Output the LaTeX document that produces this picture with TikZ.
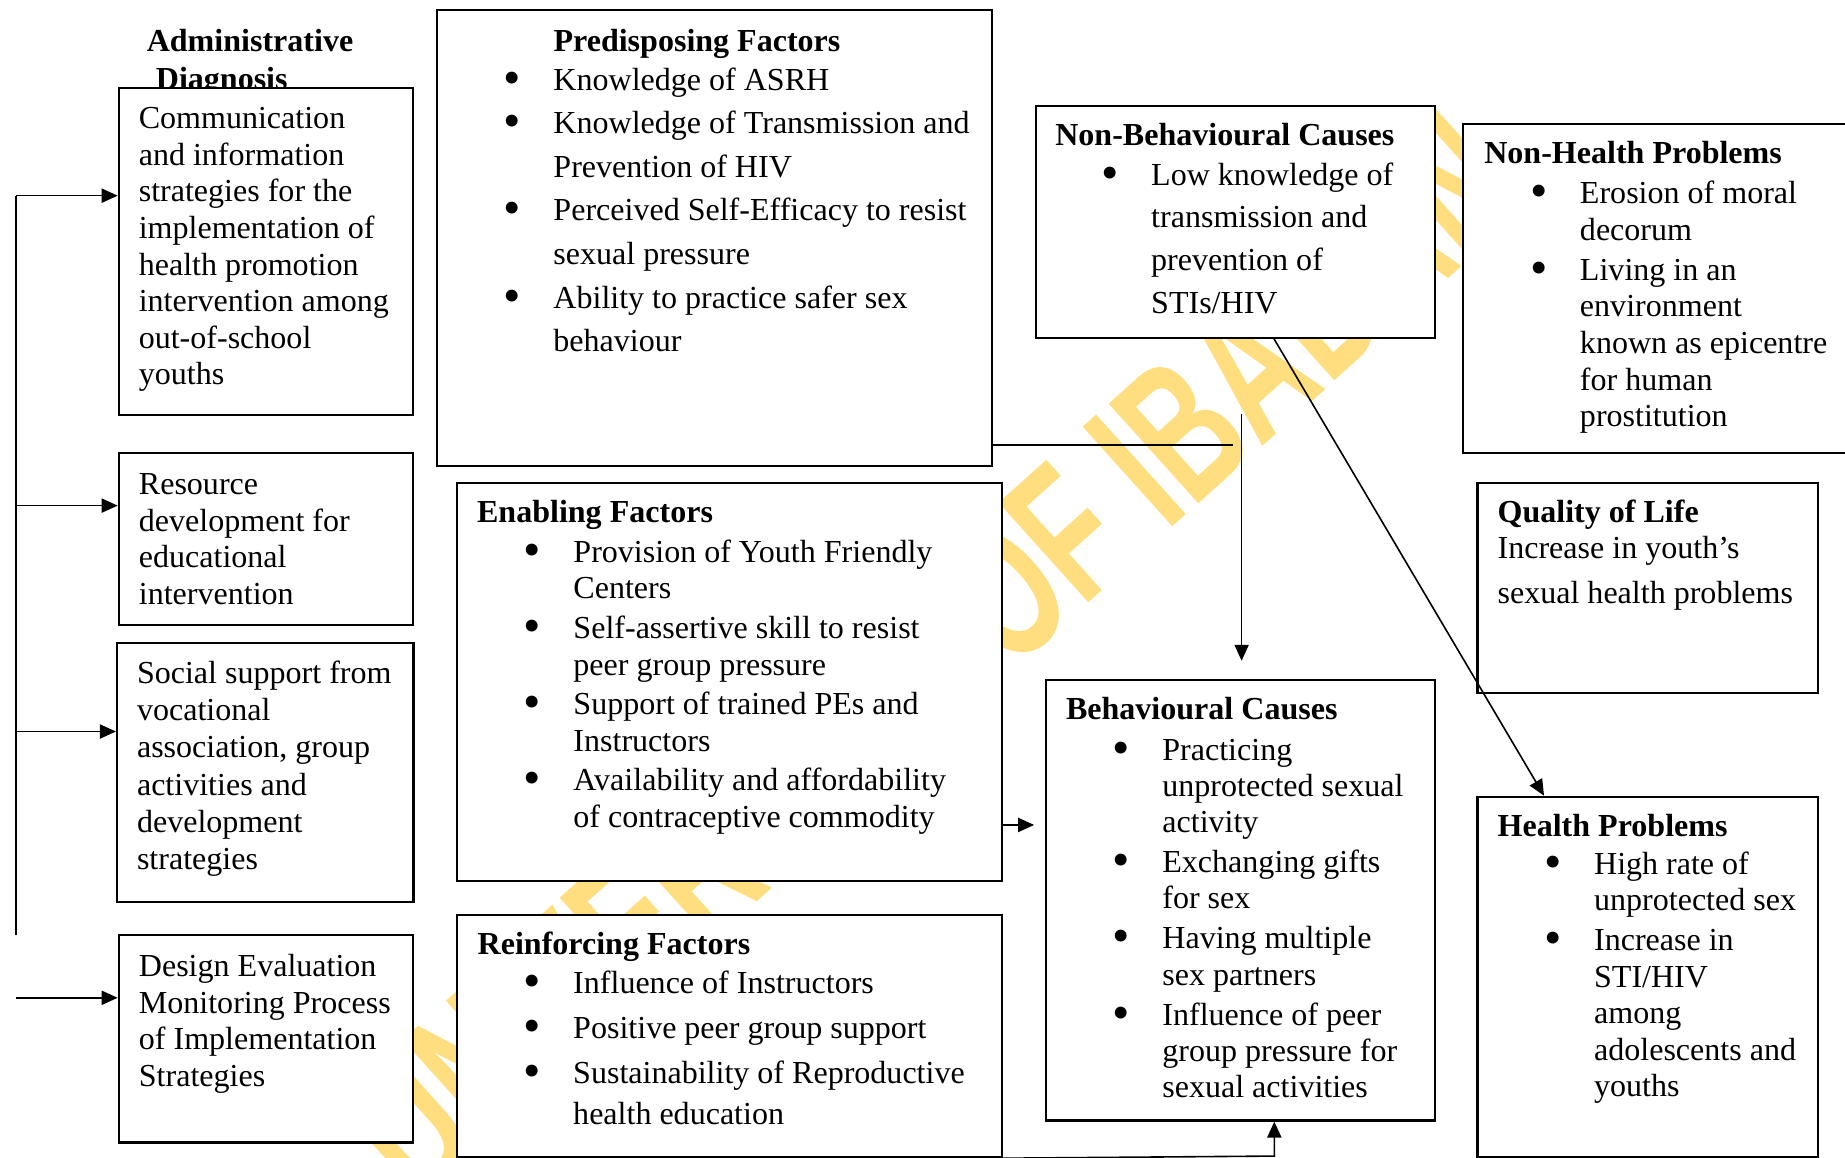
\documentclass[tikz,border=0pt]{standalone}
\usepackage{fontspec}
\usepackage{graphicx}
\setmainfont{Liberation Serif}
\newfontfamily\wmfont{Liberation Sans}
\usetikzlibrary{arrows.meta}
\definecolor{wmyellow}{RGB}{255,222,128}
\newcommand{\upx}{0.4407pt}
\newcommand{\bul}{\hspace*{-1.2pt}\raisebox{-1.5pt}{\scalebox{1.55}{\textbullet}}}
\newcommand{\fs}[1]{\fontsize{12}{#1}\selectfont}

\begin{document}
\begin{tikzpicture}[x=0.4407pt,y=-0.4407pt,>={Triangle[length=6pt,width=5.3pt]},
    box/.style 2 args={draw,fill=white,line width=0.8pt,inner sep=0pt,anchor=north west,
      minimum width=#1*\upx,minimum height=#2*\upx},
    txt/.style={anchor=base west,inner sep=0pt,yshift=-0.66pt},
    ttl/.style={txt,font=\bfseries\fs{14pt}},
    conn/.style={line width=0.6pt},
    wm/.style={anchor=base east,inner sep=0pt,rotate=42,xscale=0.65,text=wmyellow,
      font=\wmfont\bfseries\fontsize{73}{73}\selectfont}]
  \useasboundingbox (0,0) rectangle (1568,984);
  \node[wm] (wmark) at (1302.8,172.5) {UNIVERSITY OF IBADAN};

  \node[txt,font=\bfseries\fs{14pt}] (admt) at (124.3,42.5)
    {\begin{tabular}[t]{@{}l@{}}Administrative\\\hspace*{3.4pt}Diagnosis\end{tabular}};

  \node[box={250}{278}] (comm) at (100,74) {};
  \node[box={250}{146}] (res) at (100,384) {};
  \node[box={252}{220.4}] (soc) at (98.5,545.6) {};
  \node[box={250}{176}] (dsg) at (100,794) {};
  \node[box={471.7}{387.3}] (pre) at (370.3,7.9) {};
  \node[box={463.5}{338.2}] (enab) at (387.2,409.8) {};
  \node[box={463.5}{205.9}] (reinf) at (387.2,776.6) {};
  \node[box={339.5}{196.9}] (nbc) at (879.2,89.2) {};
  \node[box={340}{279.1}] (nhp) at (1242.7,104.8) {};
  \node[box={289.3}{178.5}] (qol) at (1254.7,409.3) {};
  \node[box={331}{374.4}] (beh) at (887.7,577) {};
  \node[box={289.3}{306.3}] (hp) at (1254.7,676.2) {};

  \node[txt,font=\fs{13.7pt}] (commtxt) at (117.5,108) {\begin{tabular}[t]{@{}l@{}}
    Communication\\and information\\strategies for the\\implementation of\\
    health promotion\\intervention among\\out-of-school\\youths\end{tabular}};
  \node[txt,font=\fs{13.75pt}] (restxt) at (117.6,418.8) {\begin{tabular}[t]{@{}l@{}}
    Resource\\development for\\educational\\intervention\end{tabular}};
  \node[txt,font=\fs{13.9pt}] (soctxt) at (116,579.6) {\begin{tabular}[t]{@{}l@{}}
    Social support from\\vocational\\association, group\\activities and\\
    development\\strategies\end{tabular}};
  \node[txt,font=\fs{13.7pt}] (dsgtxt) at (117.6,828.6) {\begin{tabular}[t]{@{}l@{}}
    Design Evaluation\\Monitoring Process\\of Implementation\\Strategies\end{tabular}};

  \node[ttl] (pret) at (470,42.5) {Predisposing Factors};
  \node[txt,font=\fs{16.35pt}] (pretxt) at (430.2,75) {\begin{tabular}[t]{@{}p{17.5pt}@{}l@{}}
    \bul & Knowledge of ASRH\\
    \bul & Knowledge of Transmission and\\ & Prevention of HIV\\
    \bul & Perceived Self-Efficacy to resist\\ & sexual pressure\\
    \bul & Ability to practice safer sex\\ & behaviour\end{tabular}};

  \node[ttl] (enabt) at (405,442.6) {Enabling Factors};
  \node[txt,font=\fs{13.7pt}] (enabtxt) at (447.2,476.3) {\begin{tabular}[t]{@{}p{17.5pt}@{}l@{}}
    \bul & Provision of Youth Friendly\\ & Centers\\[1.15pt]
    \bul & Self-assertive skill to resist\\ & peer group pressure\\[1.15pt]
    \bul & Support of trained PEs and\\ & Instructors\\[1.15pt]
    \bul & Availability and affordability\\ & of contraceptive commodity\end{tabular}};

  \node[ttl] (reinft) at (405.5,810) {Reinforcing Factors};
  \node[txt,font=\fs{15.56pt}] (reinftxt) at (447,842.8) {\begin{tabular}[t]{@{}p{17.5pt}@{}l@{}}
    \bul & Influence of Instructors\\[1.28pt]
    \bul & Positive peer group support\\[1.28pt]
    \bul & Sustainability of Reproductive\\ & health education\end{tabular}};

  \node[ttl] (nbct) at (896.4,121.8) {Non-Behavioural Causes};
  \node[txt,font=\fs{16.04pt}] (nbctxt) at (938.2,155.8) {\begin{tabular}[t]{@{}p{17.5pt}@{}l@{}}
    \bul & Low knowledge of\\ & transmission and\\ & prevention of\\ & STIs/HIV\end{tabular}};

  \node[ttl] (nhpt) at (1261,137.4) {Non-Health Problems};
  \node[txt,font=\fs{13.75pt}] (nhptxt) at (1302.6,171.4) {\begin{tabular}[t]{@{}p{17.5pt}@{}l@{}}
    \bul & Erosion of moral\\ & decorum\\[1.23pt]
    \bul & Living in an\\ & environment\\ & known as epicentre\\ & for human\\
    & prostitution\end{tabular}};

  \node[ttl] (qolt) at (1272.3,442.5) {Quality of Life};
  \node[txt,font=\fs{17pt}] (qoltxt) at (1272.3,473) {\begin{tabular}[t]{@{}l@{}}
    Increase in youth’s\\sexual health problems\end{tabular}};

  \node[ttl] (beht) at (905.5,610.4) {Behavioural Causes};
  \node[txt,font=\fs{13.6pt}] (behtxt) at (947.7,644.4) {\begin{tabular}[t]{@{}p{17.5pt}@{}l@{}}
    \bul & Practicing\\ & unprotected sexual\\ & activity\\[1.37pt]
    \bul & Exchanging gifts\\ & for sex\\[1.37pt]
    \bul & Having multiple\\ & sex partners\\[1.37pt]
    \bul & Influence of peer\\ & group pressure for\\ & sexual activities\end{tabular}};

  \node[ttl] (hpt) at (1272.3,709.3) {Health Problems};
  \node[txt,font=\fs{13.66pt}] (hptxt) at (1314.6,741.7) {\begin{tabular}[t]{@{}p{17.5pt}@{}l@{}}
    \bul & High rate of\\ & unprotected sex\\[1.32pt]
    \bul & Increase in\\ & STI/HIV\\ & among\\ & adolescents and\\ & youths\end{tabular}};

  \coordinate (spt) at (13.4,166.3);
  \coordinate (spb) at (13.4,794.6);
  \draw[conn] (spt) -- (spb);
  \foreach \b/\y in {comm/166.3,res/429.7,soc/621.7} {
    \coordinate (s) at (13.4,\y);
    \draw[conn,->] (s) -- (s -| \b.west);
  }
  \coordinate (dsgin) at (14,848);
  \draw[conn,->] (dsgin) -- (dsgin -| dsg.west);

  \coordinate (prej) at (1048.2,378.2);
  \draw[conn] (prej -| pre.east) -- (prej);
  \coordinate (drop) at (1055.2,352.1);
  \draw[conn,->,shorten >=6.8pt] (drop) -- (drop |- beh.north);
  \coordinate (eb) at (849.8,701.1);
  \draw[conn,->,shorten >=3.9pt] (eb -| enab.east) -- (eb -| beh.west);
  \coordinate (rb) at (1083,982.5);
  \draw[conn,->] (reinf.south east) -- (rb) -- (rb |- beh.south);
  \coordinate (nd) at (1082.7,286.1);
  \coordinate (hd) at (1312.2,676.2);
  \draw[conn,->] (nd |- nbc.south) -- (hd |- hp.north);
\end{tikzpicture}
\end{document}
